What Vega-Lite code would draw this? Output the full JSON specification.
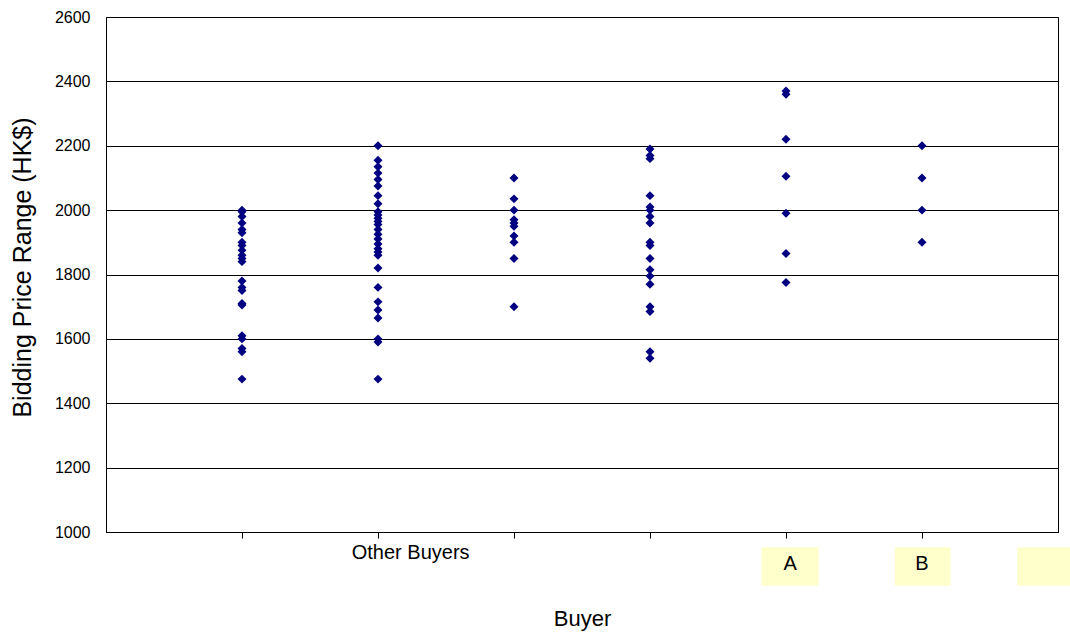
{
  "$schema": "https://vega.github.io/schema/vega-lite/v6.json",
  "width": 952,
  "height": 515,
  "autosize": {"type": "none"},
  "padding": {"left": 106, "top": 17, "right": 12, "bottom": 101},
  "background": "white",
  "config": {
    "view": {"stroke": "#000000", "strokeWidth": 1},
    "font": "Liberation Sans"
  },
  "datasets": {
    "bids": [
      {"slot": 1, "group": "Other Buyers", "price": 2000},
      {"slot": 1, "group": "Other Buyers", "price": 1995},
      {"slot": 1, "group": "Other Buyers", "price": 1980},
      {"slot": 1, "group": "Other Buyers", "price": 1960},
      {"slot": 1, "group": "Other Buyers", "price": 1940},
      {"slot": 1, "group": "Other Buyers", "price": 1930},
      {"slot": 1, "group": "Other Buyers", "price": 1900},
      {"slot": 1, "group": "Other Buyers", "price": 1890},
      {"slot": 1, "group": "Other Buyers", "price": 1875},
      {"slot": 1, "group": "Other Buyers", "price": 1860},
      {"slot": 1, "group": "Other Buyers", "price": 1850},
      {"slot": 1, "group": "Other Buyers", "price": 1840},
      {"slot": 1, "group": "Other Buyers", "price": 1780},
      {"slot": 1, "group": "Other Buyers", "price": 1760},
      {"slot": 1, "group": "Other Buyers", "price": 1750},
      {"slot": 1, "group": "Other Buyers", "price": 1710},
      {"slot": 1, "group": "Other Buyers", "price": 1705},
      {"slot": 1, "group": "Other Buyers", "price": 1610},
      {"slot": 1, "group": "Other Buyers", "price": 1600},
      {"slot": 1, "group": "Other Buyers", "price": 1570},
      {"slot": 1, "group": "Other Buyers", "price": 1560},
      {"slot": 1, "group": "Other Buyers", "price": 1475},
      {"slot": 2, "group": "Other Buyers", "price": 2200},
      {"slot": 2, "group": "Other Buyers", "price": 2155},
      {"slot": 2, "group": "Other Buyers", "price": 2135},
      {"slot": 2, "group": "Other Buyers", "price": 2115},
      {"slot": 2, "group": "Other Buyers", "price": 2095},
      {"slot": 2, "group": "Other Buyers", "price": 2075},
      {"slot": 2, "group": "Other Buyers", "price": 2045},
      {"slot": 2, "group": "Other Buyers", "price": 2020},
      {"slot": 2, "group": "Other Buyers", "price": 1995},
      {"slot": 2, "group": "Other Buyers", "price": 1985},
      {"slot": 2, "group": "Other Buyers", "price": 1975},
      {"slot": 2, "group": "Other Buyers", "price": 1965},
      {"slot": 2, "group": "Other Buyers", "price": 1955},
      {"slot": 2, "group": "Other Buyers", "price": 1940},
      {"slot": 2, "group": "Other Buyers", "price": 1925},
      {"slot": 2, "group": "Other Buyers", "price": 1910},
      {"slot": 2, "group": "Other Buyers", "price": 1895},
      {"slot": 2, "group": "Other Buyers", "price": 1880},
      {"slot": 2, "group": "Other Buyers", "price": 1870},
      {"slot": 2, "group": "Other Buyers", "price": 1860},
      {"slot": 2, "group": "Other Buyers", "price": 1820},
      {"slot": 2, "group": "Other Buyers", "price": 1760},
      {"slot": 2, "group": "Other Buyers", "price": 1715},
      {"slot": 2, "group": "Other Buyers", "price": 1690},
      {"slot": 2, "group": "Other Buyers", "price": 1665},
      {"slot": 2, "group": "Other Buyers", "price": 1600},
      {"slot": 2, "group": "Other Buyers", "price": 1590},
      {"slot": 2, "group": "Other Buyers", "price": 1475},
      {"slot": 3, "group": "Other Buyers", "price": 2100},
      {"slot": 3, "group": "Other Buyers", "price": 2035},
      {"slot": 3, "group": "Other Buyers", "price": 2000},
      {"slot": 3, "group": "Other Buyers", "price": 1970},
      {"slot": 3, "group": "Other Buyers", "price": 1960},
      {"slot": 3, "group": "Other Buyers", "price": 1950},
      {"slot": 3, "group": "Other Buyers", "price": 1920},
      {"slot": 3, "group": "Other Buyers", "price": 1900},
      {"slot": 3, "group": "Other Buyers", "price": 1850},
      {"slot": 3, "group": "Other Buyers", "price": 1700},
      {"slot": 4, "group": "Other Buyers", "price": 2190},
      {"slot": 4, "group": "Other Buyers", "price": 2170},
      {"slot": 4, "group": "Other Buyers", "price": 2160},
      {"slot": 4, "group": "Other Buyers", "price": 2045},
      {"slot": 4, "group": "Other Buyers", "price": 2010},
      {"slot": 4, "group": "Other Buyers", "price": 2000},
      {"slot": 4, "group": "Other Buyers", "price": 1980},
      {"slot": 4, "group": "Other Buyers", "price": 1960},
      {"slot": 4, "group": "Other Buyers", "price": 1900},
      {"slot": 4, "group": "Other Buyers", "price": 1890},
      {"slot": 4, "group": "Other Buyers", "price": 1850},
      {"slot": 4, "group": "Other Buyers", "price": 1815},
      {"slot": 4, "group": "Other Buyers", "price": 1795},
      {"slot": 4, "group": "Other Buyers", "price": 1770},
      {"slot": 4, "group": "Other Buyers", "price": 1700},
      {"slot": 4, "group": "Other Buyers", "price": 1685},
      {"slot": 4, "group": "Other Buyers", "price": 1560},
      {"slot": 4, "group": "Other Buyers", "price": 1540},
      {"slot": 5, "group": "A", "price": 2370},
      {"slot": 5, "group": "A", "price": 2360},
      {"slot": 5, "group": "A", "price": 2220},
      {"slot": 5, "group": "A", "price": 2105},
      {"slot": 5, "group": "A", "price": 1990},
      {"slot": 5, "group": "A", "price": 1865},
      {"slot": 5, "group": "A", "price": 1775},
      {"slot": 6, "group": "B", "price": 2200},
      {"slot": 6, "group": "B", "price": 2100},
      {"slot": 6, "group": "B", "price": 2000},
      {"slot": 6, "group": "B", "price": 1900}
    ],
    "labels": [
      {"label": "Other Buyers", "pos": 2.24, "boxed": false},
      {"label": "A", "pos": 5.03, "from": 4.82, "to": 5.24, "boxed": true},
      {"label": "B", "pos": 6.0, "from": 5.8, "to": 6.21, "boxed": true},
      {"label": "", "pos": 6.9, "from": 6.7, "to": 7.12, "boxed": true}
    ]
  },
  "layer": [
    {
      "data": {"name": "bids"},
      "mark": {"type": "point", "shape": "diamond", "filled": true, "color": "#000080", "opacity": 1, "size": 80},
      "encoding": {
        "x": {
          "field": "slot", "type": "quantitative",
          "scale": {"domain": [0, 7], "nice": false, "zero": false},
          "axis": {
            "values": [1, 2, 3, 4, 5, 6],
            "labels": false, "grid": false,
            "ticks": true, "tickSize": 6, "tickColor": "#000000",
            "domainColor": "#000000",
            "title": "Buyer", "titleFont": "Liberation Sans", "titleFontSize": 22,
            "titleFontWeight": "normal", "titleColor": "#000000",
            "titleY": 93, "titleBaseline": "alphabetic"
          }
        },
        "y": {
          "field": "price", "type": "quantitative",
          "scale": {"domain": [1000, 2600], "nice": false, "zero": false},
          "axis": {
            "values": [1000, 1200, 1400, 1600, 1800, 2000, 2200, 2400, 2600],
            "format": "d",
            "grid": true, "gridColor": "#000000", "gridWidth": 1,
            "ticks": false, "labelPadding": 16,
            "labelFont": "Liberation Sans", "labelFontSize": 16, "labelColor": "#000000",
            "domainColor": "#000000",
            "title": "Bidding Price Range (HK$)", "titleFont": "Liberation Sans",
            "titleFontSize": 25, "titleFontWeight": "normal", "titleColor": "#000000",
            "titleX": -84, "titleY": 250, "titleBaseline": "middle", "titleAlign": "center", "titleAngle": -90
          }
        }
      }
    },
    {
      "data": {"name": "labels"},
      "transform": [{"filter": "datum.boxed"}],
      "mark": {"type": "rect", "color": "#FFFFCC", "clip": false},
      "encoding": {
        "x": {"field": "from", "type": "quantitative"},
        "x2": {"field": "to"},
        "y": {"datum": 953},
        "y2": {"datum": 833}
      }
    },
    {
      "data": {"name": "labels"},
      "transform": [{"filter": "!datum.boxed"}],
      "mark": {"type": "text", "font": "Liberation Sans", "fontSize": 20, "color": "#000000", "align": "center", "baseline": "middle", "clip": false},
      "encoding": {
        "x": {"field": "pos", "type": "quantitative"},
        "y": {"datum": 934},
        "text": {"field": "label"}
      }
    },
    {
      "data": {"name": "labels"},
      "transform": [{"filter": "datum.boxed"}],
      "mark": {"type": "text", "font": "Liberation Sans", "fontSize": 20, "color": "#000000", "align": "center", "baseline": "middle", "clip": false},
      "encoding": {
        "x": {"field": "pos", "type": "quantitative"},
        "y": {"datum": 900},
        "text": {"field": "label"}
      }
    }
  ]
}
